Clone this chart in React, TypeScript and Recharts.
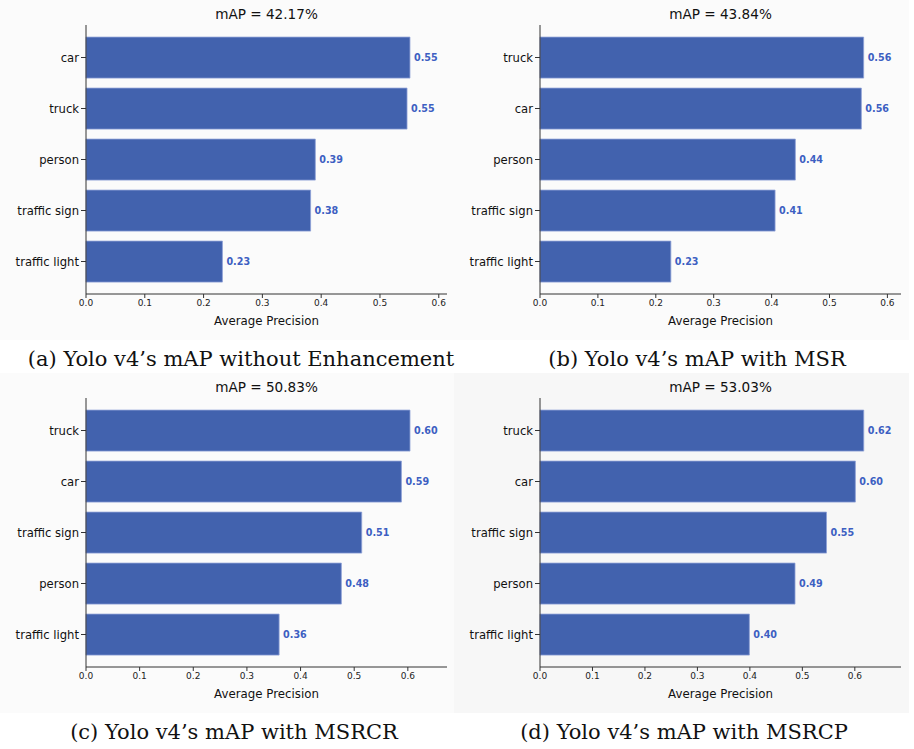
import React from 'react'
import { BarChart, Bar, XAxis, YAxis, LabelList } from 'recharts'

// per-class AP for each enhancement setting, top bar first
const catsPlain = ['car', 'truck', 'person', 'traffic sign', 'traffic light']
const apPlain = [0.551, 0.546, 0.39, 0.382, 0.232]

const catsMsr = ['truck', 'car', 'person', 'traffic sign', 'traffic light']
const apMsr = [0.559, 0.555, 0.441, 0.406, 0.226]

const catsMsrcr = ['truck', 'car', 'traffic sign', 'person', 'traffic light']
const apMsrcr = [0.604, 0.588, 0.514, 0.476, 0.36]

const catsMsrcp = ['truck', 'car', 'traffic sign', 'person', 'traffic light']
const apMsrcp = [0.617, 0.601, 0.546, 0.486, 0.399]

const mapScores = ['42.17', '43.84', '50.83', '53.03']
const captions = [
  '(a) Yolo v4’s mAP without Enhancement',
  '(b) Yolo v4’s mAP with MSR',
  '(c) Yolo v4’s mAP with MSRCR',
  '(d) Yolo v4’s mAP with MSRCP',
]
const xTicks = [0, 0.1, 0.2, 0.3, 0.4, 0.5, 0.6]

const BAR = '#4262ae'
const VALUE_TEXT = '#3d5fc2'
const AXIS = '#333'
const FONT = '"DejaVu Sans", sans-serif'

interface PanelProps {
  left: number
  top: number
  cats: string[]
  values: number[]
  xMax: number
  score: string
  caption: string
  captionX: number
  bg: string
}

function Panel({ left, top, cats, values, xMax, score, caption, captionX, bg }: PanelProps) {
  const data = cats.map((name, i) => ({ name, ap: values[i] }))
  const W = 455
  const H = 340
  const m = { top: 25, right: 8, bottom: 6, left: 6 }
  const plotCx = m.left + 80 + (W - m.left - 80 - m.right) / 2
  return (
    <div style={{ position: 'absolute', left, top, width: W, height: 370 }}>
      <div style={{ position: 'absolute', left: 0, top: 0, width: W, height: H, background: bg }} />
      <div
        style={{
          position: 'absolute', left: plotCx - 100, top: 6, width: 200, textAlign: 'center',
          fontFamily: FONT, fontSize: 13.6, lineHeight: '16px', color: '#111',
        }}
      >
        mAP = {score}%
      </div>
      <div style={{ position: 'absolute', left: 0, top: 0 }}>
        <BarChart width={W} height={H} data={data} layout="vertical" margin={m} barCategoryGap="10%">
          <XAxis
            type="number"
            domain={[0, xMax]}
            ticks={xTicks}
            tickFormatter={v => v.toFixed(1)}
            tick={{ fontSize: 9, fill: '#222', fontFamily: FONT }}
            tickSize={4}
            tickMargin={2}
            height={40}
            stroke={AXIS}
            label={{ value: 'Average Precision', position: 'insideBottom', offset: 9, fontSize: 11.8, fill: '#111', fontFamily: FONT }}
          />
          <XAxis xAxisId="top" orientation="top" type="number" domain={[0, xMax]} height={0} tick={false} tickLine={false} stroke={AXIS} />
          <YAxis
            type="category"
            dataKey="name"
            width={80}
            tick={{ fontSize: 11.6, fill: '#111', fontFamily: FONT }}
            tickSize={5}
            tickMargin={2}
            stroke={AXIS}
            padding={{ top: 7, bottom: 7 }}
          />
          <YAxis yAxisId="right" orientation="right" type="category" dataKey="name" width={0} tick={false} tickLine={false} stroke={AXIS} />
          <Bar dataKey="ap" fill={BAR} stroke="#8da0d6" strokeWidth={0.8} isAnimationActive={false}>
            <LabelList
              dataKey="ap"
              position="right"
              offset={4}
              formatter={(v: number) => v.toFixed(2)}
              style={{ fontSize: 9.6, fontWeight: 'bold', fill: VALUE_TEXT, fontFamily: FONT }}
            />
          </Bar>
        </BarChart>
      </div>
      <div
        style={{
          position: 'absolute', left: captionX - 250, top: 346, width: 500, textAlign: 'center',
          fontFamily: '"DejaVu Serif", serif', fontSize: 21, lineHeight: '26px', color: '#111', whiteSpace: 'nowrap',
        }}
      >
        {caption}
      </div>
    </div>
  )
}

export default function App() {
  return (
    <div style={{ position: 'absolute', left: 0, top: 0, width: 914, height: 749, background: '#fff', overflow: 'hidden' }}>
      <Panel left={0} top={0} cats={catsPlain} values={apPlain} xMax={0.614} score={mapScores[0]} caption={captions[0]} captionX={241} bg="#fbfbfb" />
      <Panel left={454} top={0} cats={catsMsr} values={apMsr} xMax={0.6235} score={mapScores[1]} caption={captions[1]} captionX={243} bg="#fbfbfb" />
      <Panel left={0} top={373} cats={catsMsrcr} values={apMsrcr} xMax={0.673} score={mapScores[2]} caption={captions[2]} captionX={234} bg="#fbfbfb" />
      <Panel left={454} top={373} cats={catsMsrcp} values={apMsrcp} xMax={0.688} score={mapScores[3]} caption={captions[3]} captionX={230} bg="#f7f7f7" />
    </div>
  )
}
